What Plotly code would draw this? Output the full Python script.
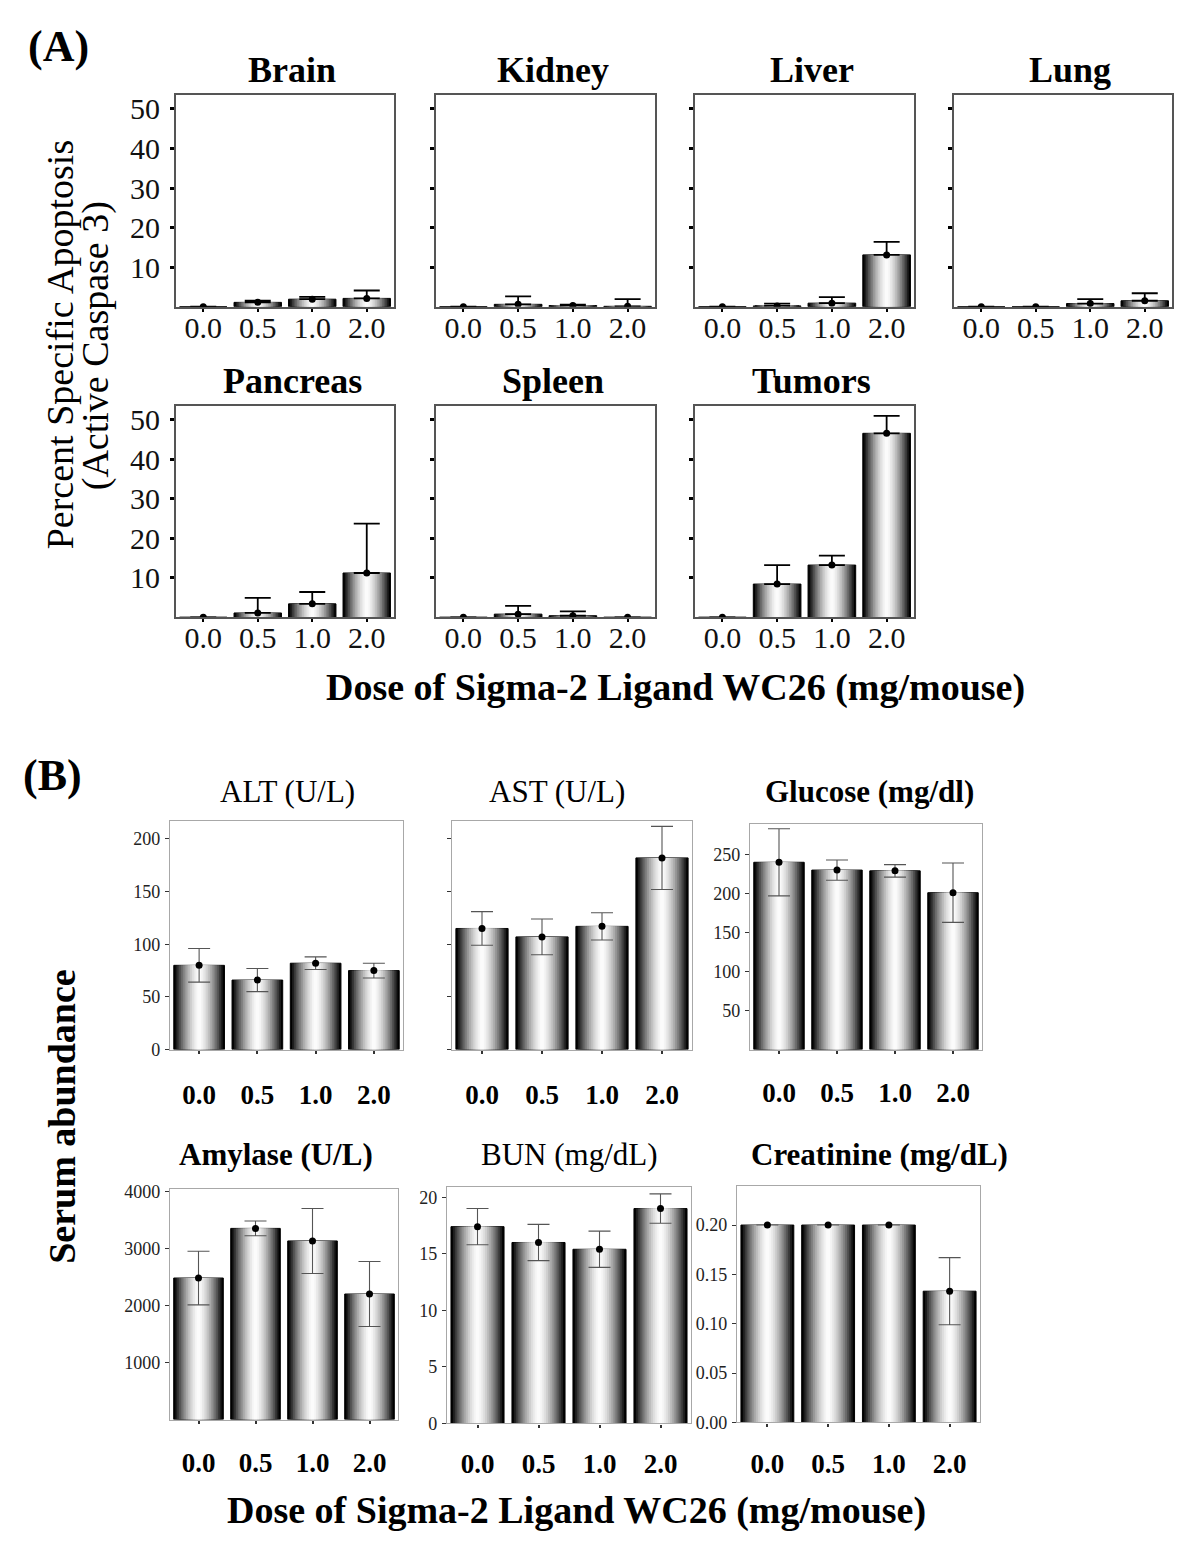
import plotly.graph_objects as go

# ---------------- data ----------------
doses = ["0.0", "0.5", "1.0", "2.0"]

# Panel A: percent specific apoptosis (mean, upper error)
brain_mean = [0, 1.1, 1.9, 2.1]
brain_err = [0, 0.4, 0.6, 2.0]
kidney_mean = [0, 0.6, 0.3, 0.1]
kidney_err = [0, 2.0, 0.2, 1.8]
liver_mean = [0, 0.2, 0.9, 13.1]
liver_err = [0, 0.6, 1.5, 3.3]
lung_mean = [0, 0, 0.8, 1.5]
lung_err = [0, 0, 1.1, 1.9]
pancreas_mean = [0, 1.1, 3.4, 11.2]
pancreas_err = [0, 3.8, 3.0, 12.5]
spleen_mean = [0, 0.8, 0.4, 0]
spleen_err = [0, 2.1, 1.1, 0]
tumor_mean = [0, 8.4, 13.2, 46.5]
tumor_err = [0, 4.8, 2.4, 4.4]

# Panel B: serum abundance (mean, +/- error)
alt_mean = [80, 66, 82, 75]
alt_err = [16, 11, 6, 7]
ast_mean = [115, 107, 117, 182]
ast_err = [16, 17, 13, 30]
glucose_mean = [240, 230, 229, 201]
glucose_err = [43, 13, 8, 38]
amylase_mean = [2480, 3350, 3130, 2200]
amylase_err = [470, 130, 570, 570]
bun_mean = [17.4, 16.0, 15.4, 19.0]
bun_err = [1.6, 1.6, 1.6, 1.3]
creat_mean = [0.2, 0.2, 0.2, 0.133]
creat_err = [0, 0, 0, 0.034]

a_ticks = [10, 20, 30, 40, 50]
alt_ticks = [0, 50, 100, 150, 200]
glucose_ticks = [50, 100, 150, 200, 250]
amylase_ticks = [1000, 2000, 3000, 4000]
bun_ticks = [0, 5, 10, 15, 20]
creat_ticks = [0, 0.05, 0.10, 0.15, 0.20]

# ---------------- styling ----------------
W, H = 1200, 1567
FONT = "Liberation Serif"


def fx(p):
    return p / W


def fy(p):
    return 1 - p / H


# cylindrical shading: nested bars, dark at the edges, white in the middle
N_SHADE = 14
SHADES = []
for k in range(N_SHADE):
    frac = 1 - k / N_SHADE
    g = int(round(255 * (1 - frac ** 1.6)))
    SHADES.append((frac, f"rgb({g},{g},{g})"))

fig = go.Figure()
annotations = []
axes = {}


def add_panel(idx, mean, err, box, yrange, tickvals, show_labels, title,
              title_x, title_y, kind, title_bold=True, tickformat=None,
              xstand=None):
    x0, x1, y0, y1 = box
    xa = "x" if idx == 1 else f"x{idx}"
    ya = "y" if idx == 1 else f"y{idx}"
    xkey = "xaxis" if idx == 1 else f"xaxis{idx}"
    ykey = "yaxis" if idx == 1 else f"yaxis{idx}"
    bw = 0.87
    for k, (frac, col) in enumerate(SHADES):
        fig.add_trace(go.Bar(
            x=doses, y=mean, width=bw * frac, xaxis=xa, yaxis=ya,
            marker=dict(color=col,
                        line=dict(color="#000", width=1 if k == 0 else 0)),
            showlegend=False, hoverinfo="skip"))
    if kind == "A":
        ey = dict(type="data", symmetric=False, array=err,
                  arrayminus=[0] * len(err), color="#000", thickness=1.8,
                  width=13)
        mk = dict(color="#000", size=7)
    else:
        ey = dict(type="data", symmetric=True, array=err, color="#555",
                  thickness=1.1, width=11)
        mk = dict(color="#000", size=7)
    fig.add_trace(go.Scatter(x=doses, y=mean, mode="markers", marker=mk,
                             error_y=ey, xaxis=xa, yaxis=ya,
                             showlegend=False, hoverinfo="skip"))
    if kind == "A":
        line_col, line_w = "#555", 2
        xfont = dict(family=FONT, size=30, color="#111")
        yfont = dict(family=FONT, size=30, color="#111")
        ystand = 4
        tlen, twid, tcol = 4, 3, "#000"
    else:
        line_col, line_w = "#a8a8a8", 1.3
        xfont = dict(family=FONT, size=27, color="#000", weight="bold")
        yfont = dict(family=FONT, size=18, color="#222")
        ystand = 1
        tlen, twid, tcol = 4, 1, "#333"
    axes[xkey] = dict(domain=[fx(x0), fx(x1)], anchor=ya, type="category",
                      categoryorder="array", categoryarray=doses,
                      showline=True, linecolor=line_col, linewidth=line_w,
                      mirror=True, ticks="outside", ticklen=3, tickwidth=2,
                      tickcolor=tcol, tickfont=xfont, showgrid=False,
                      zeroline=False, ticklabelstandoff=xstand,
                      fixedrange=True)
    axes[ykey] = dict(domain=[fy(y1), fy(y0)], anchor=xa, range=yrange,
                      tickvals=tickvals, showticklabels=show_labels,
                      showline=True, linecolor=line_col, linewidth=line_w,
                      mirror=True, ticks="outside", ticklen=tlen,
                      tickwidth=twid, tickcolor=tcol, tickfont=yfont,
                      showgrid=False, zeroline=False,
                      ticklabelstandoff=ystand, fixedrange=True)
    if tickformat:
        axes[ykey]["tickformat"] = tickformat
    tsize = 36 if kind == "A" else 31
    txt = f"<b>{title}</b>" if title_bold else title
    annotations.append(dict(text=txt, x=fx(title_x), y=fy(title_y),
                            xref="paper", yref="paper", showarrow=False,
                            xanchor="center", yanchor="middle",
                            font=dict(family=FONT, size=tsize, color="#000")))


A_R1 = (89, 303)
A_R2 = (403, 617)
A_COLS = [(176, 394), (436, 655), (695, 914), (954, 1172)]
A_RANGE = [0, 53.5]

panels_a = [
    (brain_mean, brain_err, A_COLS[0], A_R1, True, "Brain", 64),
    (kidney_mean, kidney_err, A_COLS[1], A_R1, False, "Kidney", 64),
    (liver_mean, liver_err, A_COLS[2], A_R1, False, "Liver", 64),
    (lung_mean, lung_err, A_COLS[3], A_R1, False, "Lung", 64),
    (pancreas_mean, pancreas_err, A_COLS[0], A_R2, True, "Pancreas", 378),
    (spleen_mean, spleen_err, A_COLS[1], A_R2, False, "Spleen", 378),
    (tumor_mean, tumor_err, A_COLS[2], A_R2, False, "Tumors", 378),
]

idx = 1
for mean, err, (cx0, cx1), (ry0, ry1), lab, title, ty in panels_a:
    add_panel(idx, mean, err, (cx0, cx1, ry0, ry1), A_RANGE, a_ticks, lab,
              title, (cx0 + cx1) / 2 + 7, ty, "A", xstand=-10)
    idx += 1

panels_b = [
    (alt_mean, alt_err, (170, 403, 823, 1054), [0, 217], alt_ticks, True,
     "ALT (U/L)", 287, 793, False, None, 18),
    (ast_mean, ast_err, (452, 692, 823, 1054), [0, 217], alt_ticks, False,
     "AST (U/L)", 557, 793, False, None, 18),
    (glucose_mean, glucose_err, (750, 982, 826, 1054), [0, 289],
     glucose_ticks, True, "Glucose (mg/dl)", 869, 793, True, None, 16),
    (amylase_mean, amylase_err, (170, 398, 1195, 1428), [0, 4040],
     amylase_ticks, True, "Amylase (U/L)", 276, 1160, True, None, 16),
    (bun_mean, bun_err, (447, 691, 1193, 1432), [0, 20.9], bun_ticks, True,
     "BUN (mg/dL)", 569, 1160, False, None, 13),
    (creat_mean, creat_err, (737, 980, 1192, 1431), [0, 0.2395],
     creat_ticks, True, "Creatinine (mg/dL)", 879, 1160, True, ".2f", 14),
]

for mean, err, box, yr, tv, lab, title, tx, ty, bold, tf, xs in panels_b:
    add_panel(idx, mean, err, box, yr, tv, lab, title, tx, ty, "B",
              title_bold=bold, tickformat=tf, xstand=xs)
    idx += 1

# Titles and labels
extra = [
    dict(text="<b>(A)</b>", x=fx(58), y=fy(40), font=dict(size=44)),
    dict(text="<b>(B)</b>", x=fx(52), y=fy(777), font=dict(size=44)),
    dict(text="Percent Specific Apoptosis", x=fx(60), y=fy(342),
         textangle=-90, font=dict(size=38)),
    dict(text="(Active Caspase 3)", x=fx(95), y=fy(343), textangle=-90,
         font=dict(size=38)),
    dict(text="<b>Dose of Sigma-2 Ligand WC26 (mg/mouse)</b>", x=fx(675),
         y=fy(688), font=dict(size=38)),
    dict(text="<b>Serum abundance</b>", x=fx(62), y=fy(1122), textangle=-90,
         font=dict(size=38)),
    dict(text="<b>Dose of Sigma-2 Ligand WC26 (mg/mouse)</b>", x=fx(576),
         y=fy(1520), font=dict(size=38)),
]
for a in extra:
    a.update(xref="paper", yref="paper", showarrow=False, xanchor="center",
             yanchor="middle")
    a["font"].update(family=FONT, color="#000")
annotations += extra

fig.update_layout(
    width=W, height=H, margin=dict(l=0, r=0, t=0, b=0),
    paper_bgcolor="white", plot_bgcolor="white", barmode="overlay",
    showlegend=False, annotations=annotations,
    font=dict(family=FONT, color="#000"), **axes)

fig.write_html("out.html", config={"displayModeBar": False},
               post_script="document.body.style.margin='0';")
